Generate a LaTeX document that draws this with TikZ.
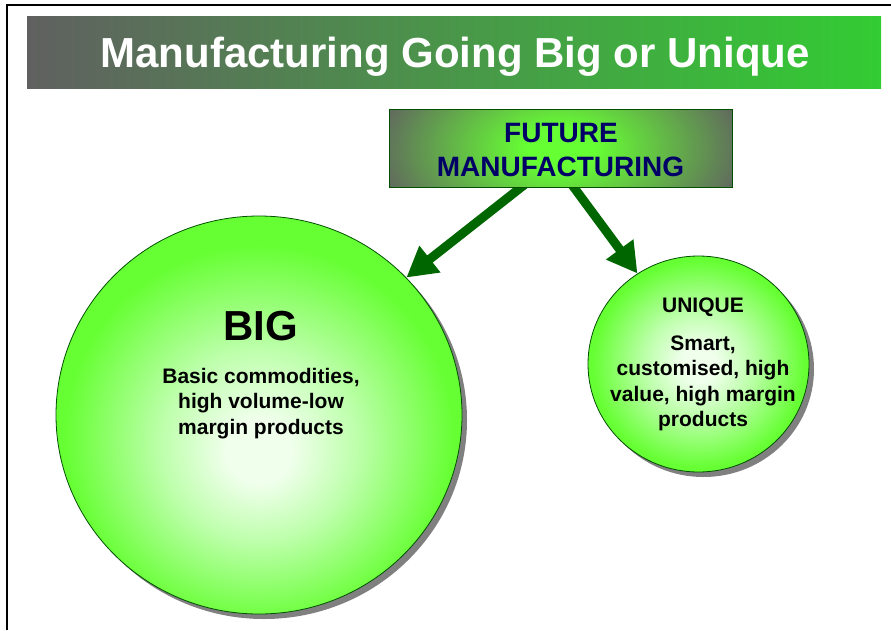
\documentclass[tikz,border=0pt]{standalone}
\usepackage{fontspec}
\setmainfont{Liberation Sans}
\usetikzlibrary{shapes.geometric,shadows,arrows.meta,calc}
\definecolor{bgreen}{RGB}{102,255,51}
\definecolor{glowc}{RGB}{240,255,236}
\definecolor{midc}{RGB}{190,255,172}
\definecolor{dgray}{RGB}{96,96,96}
\definecolor{tgreen}{RGB}{51,204,51}
\definecolor{navy}{RGB}{0,0,102}
\definecolor{agreen}{RGB}{0,102,0}
\definecolor{edgegreen}{RGB}{0,80,0}
\definecolor{shgray}{RGB}{128,128,128}
\pgfdeclareradialshading{glowbig}{\pgfpoint{0bp}{-5bp}}{color(0bp)=(glowc); color(4bp)=(glowc); color(12bp)=(midc); color(24bp)=(bgreen); color(50bp)=(bgreen)}
\pgfdeclareradialshading{glowuni}{\pgfpoint{0bp}{0bp}}{color(0bp)=(glowc); color(4bp)=(glowc); color(12bp)=(midc); color(24bp)=(bgreen); color(50bp)=(bgreen)}
\pgfdeclareradialshading{boxglow}{\pgfpoint{0bp}{0bp}}{color(0bp)=(bgreen); color(4bp)=(bgreen); color(23bp)=(dgray); color(50bp)=(dgray)}
\pgfdeclarelayer{bg}
\pgfsetlayers{bg,main}
\tikzset{
  ball/.style={ellipse, draw=edgegreen, line width=0.8pt, inner sep=0pt,
    drop shadow={shadow xshift=5pt, shadow yshift=-5pt, fill=shgray, opacity=1}},
  bigarrow/.style={draw=agreen, line width=9pt, -{Triangle[width=32pt,length=30pt]}},
  labeltext/.style={font=\fontsize{21}{25.5}\selectfont\bfseries, align=center, inner sep=0pt},
  headtext/.style={font=\fontsize{42}{50}\selectfont\bfseries, inner sep=0pt},
  boxtext/.style={font=\fontsize{28}{33}\selectfont\bfseries, text=navy, inner sep=0pt, anchor=base},
}
\begin{document}
\begin{tikzpicture}[x=1pt,y=-1pt]
\useasboundingbox (0,0) rectangle (891,630);
% frame
\draw[line width=2pt] (7,630) -- (7,5.3) -- (891,5.3);
% title bar
\node[rectangle, minimum width=854pt, minimum height=72pt, inner sep=0pt,
      left color=dgray, right color=tgreen] (bar) at (454,52) {};
\node[headtext, text=white, anchor=base] (title) at (455,67) {Manufacturing Going Big or Unique};
% circles
\node[ball, shading=glowbig, minimum width=406pt, minimum height=398pt] (big) at (259,415) {};
\node[ball, shading=glowuni, minimum width=221pt, minimum height=216pt] (unique) at (698.5,364) {};
% box
\node[rectangle, draw=edgegreen, line width=0.8pt, fill=dgray,
      minimum width=343pt, minimum height=78pt, inner sep=0pt,
      path picture={\shade[shading=boxglow]
        ([xshift=-210pt,yshift=-120pt]path picture bounding box.center) rectangle
        ([xshift=210pt,yshift=120pt]path picture bounding box.center);}] (fm) at (560.5,148) {};
\node[boxtext] (fut) at (561,142.7) {FUTURE};
\node[boxtext] (manu) at (560.5,176) {MANUFACTURING};
% texts in circles
\node[headtext, anchor=base] (bigtitle) at (261,340) {BIG};
\node[labeltext] (bigtext) at (261,403.3) {Basic commodities,\\high volume-low\\margin products};
\node[labeltext, anchor=base] (unititle) at (703,312.7) {UNIQUE};
\node[labeltext] (unitext) at (703,383.3) {Smart,\\customised, high\\value, high margin\\products};
% arrows
\coordinate (sL) at ($(fm.south west)!0.385!(fm.south east)$);
\coordinate (sR) at ($(fm.south west)!0.539!(fm.south east)$);
\begin{pgfonlayer}{bg}
\draw[bigarrow] ($(big.43)!1.07!(sL)$) -- (big.43);
\draw[bigarrow] ($(unique.124)!1.08!(sR)$) -- (unique.124);
\end{pgfonlayer}
\end{tikzpicture}
\end{document}
